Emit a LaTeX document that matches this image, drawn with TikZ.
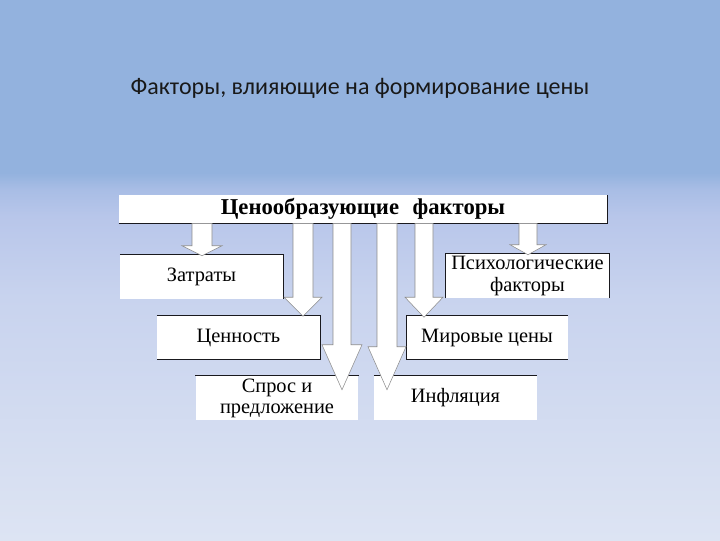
\documentclass[tikz,border=0pt]{standalone}
\usepackage{fontspec}
\setmainfont{Liberation Serif}
\newfontfamily\titlefont{Carlito}
\usetikzlibrary{calc}
\definecolor{bgtop}{RGB}{147,178,222}
\definecolor{bgfade}{RGB}{168,189,229}
\definecolor{bglight}{RGB}{184,198,234}
\definecolor{bgmid}{RGB}{200,211,238}
\definecolor{bgbot}{RGB}{221,228,243}
\definecolor{edgeline}{RGB}{25,25,30}
% the central 25bp..75bp of the shading covers the picture
\pgfdeclareverticalshading{slidebg}{100bp}{color(0bp)=(bgbot); color(25bp)=(bgbot);
  color(47.5bp)=(bgmid); color(55bp)=(bglight); color(57.5bp)=(bgfade);
  color(59bp)=(bgtop); color(100bp)=(bgtop)}
\tikzset{
  factor/.style={fill=white, inner sep=0pt, minimum width=122pt, minimum height=33pt,
                 align=center, font=\fontsize{15.3}{15.8}\selectfont},
  headbar/.style={fill=white, inner sep=0pt, minimum width=366pt, minimum height=21pt,
                  font=\fontsize{17}{18}\selectfont\bfseries},
  shadowline/.style={edgeline, line width=0.8pt},
  blockarr/.style={fill=white, draw=black!45, line width=0.4pt},
}
% block arrow from the head bar down to a factor box
% #1 x, #2 target, #3 shaft half width, #4 head half width, #5 head length, #6 tip depth
\newcommand{\pricearrow}[6]{%
  \coordinate (ax) at (#1,0);
  \coordinate (a0) at (ax |- top.south);
  \coordinate (a1) at ($(ax |- #2.north)+(0,#6)$);
  \filldraw[blockarr] ($(a0)+(-#3,0)$) -- ($(a1)+(-#3,-#5)$) -- ($(a1)+(-#4,-#5)$) -- (a1)
    -- ($(a1)+(#4,-#5)$) -- ($(a1)+(#3,-#5)$) -- ($(a0)+(#3,0)$) -- cycle;}

\begin{document}
\begin{tikzpicture}[x=0.75pt,y=-0.75pt]
  % ---- background ----
  \useasboundingbox (0,0) rectangle (720,540);
  \shade[shading=slidebg] (0,0) rectangle (720,540);
  \node[font=\titlefont\fontsize{18}{20}\selectfont, text=black!90] (title) at (360,88)
    {Факторы, влияющие на формирование цены};
  % ---- boxes ----
  \node[headbar] (top) at (363,209) {Ценообразующие\hspace{0.6em}факторы};
  \node[factor] (zat) at (201.5,277) {Затраты};
  \node[factor] (psy) at (527.5,276) {Психологические\\факторы};
  \node[factor] (cen) at (238.5,337.5) {Ценность};
  \node[factor, minimum width=121pt] (mir) at (487,337.5) {Мировые цены};
  \node[factor] (spr) at (277,398) {Спрос и\\предложение};
  \node[factor] (inf) at (455.5,398) {Инфляция};
  % ---- dark edges ----
  \draw[shadowline] (top.south west) -- (top.south east) -- (top.north east);
  \draw[shadowline] (zat.north west) -- (zat.north east) -- (zat.south east);
  \draw[shadowline] (psy.south west) -- (psy.north west) -- (psy.north east) -- (psy.south east);
  \draw[shadowline] (cen.north west) -- (cen.north east) -- (cen.south east) -- (cen.south west);
  \draw[shadowline] (mir.north east) -- (mir.north west) -- (mir.south west) -- (mir.south east);
  \draw[shadowline] (spr.north west) -- (spr.north east);
  \draw[shadowline] (inf.north west) -- (inf.north east);
  % ---- arrows ----
  \pricearrow{202}{zat}{10}{20}{10}{1}
  \pricearrow{303}{cen}{10}{19}{19}{1}
  \pricearrow{342}{spr}{9}{20}{45}{14}
  \pricearrow{387}{inf}{10}{19}{43}{14}
  \pricearrow{424}{mir}{9}{19}{20}{2}
  \pricearrow{528}{psy}{9}{18}{10}{1}
\end{tikzpicture}
\end{document}
